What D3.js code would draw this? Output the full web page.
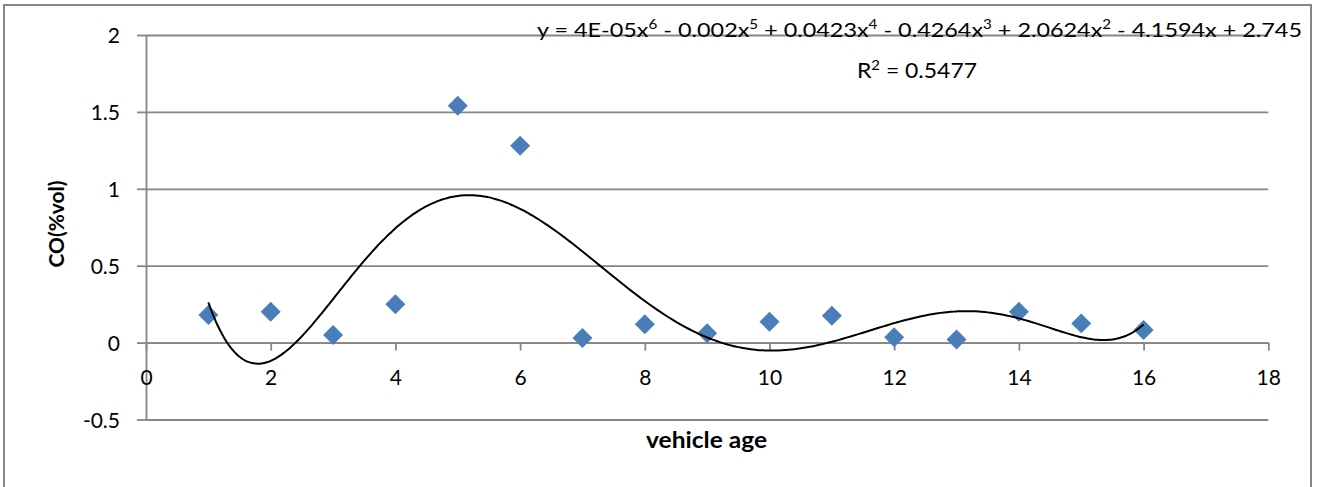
<!DOCTYPE html>
<html>
<head>
<meta charset="utf-8">
<script src="https://cdn.jsdelivr.net/npm/d3@7"></script>
<style>
  html, body { margin: 0; padding: 0; background: #fff; }
  svg { display: block; }
</style>
</head>
<body>
<svg id="chart" width="1320" height="487"></svg>
<script>
// ---- data ----
const vehicleAge = [1, 2, 3, 4, 5, 6, 7, 8, 9, 10, 11, 12, 13, 14, 15, 16];
const coVol = [0.18, 0.20, 0.05, 0.25, 1.54, 1.28, 0.03, 0.12, 0.06, 0.135, 0.175, 0.035, 0.02, 0.20, 0.125, 0.082];
const xTickValues = [0, 2, 4, 6, 8, 10, 12, 14, 16, 18];
const yTickValues = [-0.5, 0, 0.5, 1, 1.5, 2];
const equationParts = [
  ["y = 4E-05x", "6"], [" - 0.002x", "5"], [" + 0.0423x", "4"], [" - 0.4264x", "3"],
  [" + 2.0624x", "2"], [" - 4.1594x + 2.745", null]
];
const rSquaredParts = [["R", "2"], [" = 0.5477", null]];
const xTitle = "vehicle age";
const yTitle = "CO(%vol)";

// ---- polynomial trendline (least squares, order 6) ----
function polyfit(xs, ys, deg) {
  const m = d3.mean(xs), s = (d3.max(xs) - d3.min(xs)) / 2;
  const n = deg + 1;
  const A = Array.from({length: n}, () => new Array(n + 1).fill(0));
  xs.forEach((xv, k) => {
    const t = (xv - m) / s;
    const pw = [];
    for (let i = 0; i < n; i++) pw.push(Math.pow(t, i));
    for (let i = 0; i < n; i++) {
      for (let j = 0; j < n; j++) A[i][j] += pw[i] * pw[j];
      A[i][n] += pw[i] * ys[k];
    }
  });
  for (let c = 0; c < n; c++) {
    let p = c;
    for (let r = c + 1; r < n; r++) if (Math.abs(A[r][c]) > Math.abs(A[p][c])) p = r;
    [A[c], A[p]] = [A[p], A[c]];
    for (let r = 0; r < n; r++) {
      if (r === c) continue;
      const f = A[r][c] / A[c][c];
      for (let k = c; k <= n; k++) A[r][k] -= f * A[c][k];
    }
  }
  const coef = A.map((row, i) => row[n] / row[i]);
  return xv => { const t = (xv - m) / s; let v = 0; for (let i = n - 1; i >= 0; i--) v = v * t + coef[i]; return v; };
}
const trend = polyfit(vehicleAge, coVol, 6);

// ---- layout ----
const svg = d3.select("#chart");
const gridColor = "#868686";
const font = "Lato, 'Open Sans', sans-serif";

const x = d3.scaleLinear().domain([0, 18]).range([146, 1268.3]);
const y = d3.scaleLinear().domain([-0.5, 2]).range([419.5, 35]);

// chart border
svg.append("rect")
  .attr("x", 4).attr("y", 5).attr("width", 1307).attr("height", 520)
  .attr("fill", "#fff").attr("stroke", gridColor).attr("stroke-width", 2);

// gridlines + y axis
const yAxis = d3.axisLeft(y).tickValues(yTickValues).tickSize(9).tickSizeOuter(0)
  .tickFormat(d => String(d));
const gy = svg.append("g").attr("transform", `translate(${x(0)},0)`).call(yAxis);
gy.select(".domain").attr("stroke", gridColor).attr("stroke-width", 1.8);
gy.selectAll(".tick line").attr("stroke", gridColor).attr("stroke-width", 1.8)
  .attr("x2", -9);
gy.selectAll(".tick").append("line")
  .attr("x1", 0).attr("x2", x(18) - x(0))
  .attr("stroke", gridColor).attr("stroke-width", 1.8);
gy.selectAll(".tick text")
  .attr("x", -26).attr("dy", "0.36em")
  .attr("fill", "#000").style("font-family", font).style("font-size", "21px");
gy.attr("font-family", null).attr("font-size", null);

// x axis at y = 0
const xAxis = d3.axisBottom(x).tickValues(xTickValues).tickSize(8).tickSizeOuter(0)
  .tickFormat(d => String(d));
const gx = svg.append("g").attr("transform", `translate(0,${y(0)})`).call(xAxis);
gx.select(".domain").attr("stroke", gridColor).attr("stroke-width", 1.8);
gx.selectAll(".tick line").attr("stroke", gridColor).attr("stroke-width", 1.8);
gx.selectAll(".tick text")
  .attr("y", 42).attr("dy", null)
  .attr("fill", "#000").style("font-family", font).style("font-size", "21px");
gx.attr("font-family", null).attr("font-size", null);

// markers
svg.append("g").selectAll("path")
  .data(vehicleAge.map((a, i) => [a, coVol[i]]))
  .join("path")
  .attr("d", d3.symbol().type(d3.symbolSquare).size(200))
  .attr("transform", d => `translate(${x(d[0])},${y(d[1])}) rotate(45)`)
  .attr("fill", "#4a7ebb");

// trendline
const trendPts = d3.range(vehicleAge[0], vehicleAge[vehicleAge.length - 1] + 0.0001, 0.05)
  .map(v => [v, trend(v)]);
svg.append("path")
  .datum(trendPts)
  .attr("d", d3.line().x(d => x(d[0])).y(d => y(d[1])).curve(d3.curveMonotoneX))
  .attr("fill", "none").attr("stroke", "#000").attr("stroke-width", 2);

// equation labels
function richText(parts, cx, baseline, size, targetWidth) {
  const shift = size * 0.38;
  const t = svg.append("text")
    .attr("x", cx).attr("y", baseline)
    .attr("text-anchor", "middle")
    .style("font-family", font).style("font-size", size + "px").attr("fill", "#000");
  let raised = false;
  parts.forEach(([main, sup]) => {
    const m = t.append("tspan").text(main);
    if (raised) { m.attr("dy", shift); raised = false; }
    if (sup) {
      t.append("tspan").attr("dy", -shift).style("font-size", (size * 0.65) + "px").text(sup);
      raised = true;
    }
  });
  if (targetWidth) t.attr("textLength", targetWidth).attr("lengthAdjust", "spacingAndGlyphs");
  return t;
}
richText(equationParts, 919.5, 37, 20, 765);
richText(rSquaredParts, 917, 78, 21, 120);

// axis titles
svg.append("text")
  .attr("x", 706.5).attr("y", 448)
  .attr("text-anchor", "middle")
  .attr("textLength", 121).attr("lengthAdjust", "spacingAndGlyphs")
  .style("font-family", font).style("font-size", "23px").style("font-weight", "bold")
  .attr("fill", "#000").text(xTitle);

svg.append("text")
  .attr("transform", `translate(64,224) rotate(-90)`)
  .attr("text-anchor", "middle")
  .attr("textLength", 87).attr("lengthAdjust", "spacingAndGlyphs")
  .style("font-family", font).style("font-size", "21px").style("font-weight", "bold")
  .attr("fill", "#000").text(yTitle);
</script>
</body>
</html>
